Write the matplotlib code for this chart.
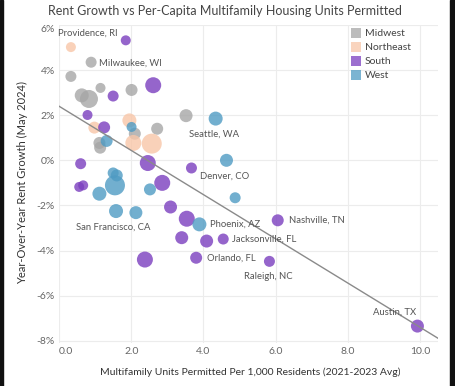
import numpy as np
import matplotlib
matplotlib.use("Agg")
import matplotlib.pyplot as plt
from matplotlib.lines import Line2D
from matplotlib.patches import Rectangle

plt.rcParams['font.family'] = ['Lato', 'DejaVu Sans']

# ---- data ----
regions = ["Midwest", "Northeast", "South", "West"]
region_colors = {"Midwest": "#a6a6a6", "Northeast": "#f8c6a8",
                 "South": "#7b3fbf", "West": "#4f9bc3"}

midwest_x = [0.89, 0.33, 0.63, 0.83, 1.15, 2.01, 2.10, 2.72, 3.52, 1.12, 1.14]
midwest_y = [4.35, 3.72, 2.88, 2.72, 3.21, 3.12, 1.18, 1.40, 1.98, 0.77, 0.56]
midwest_r = [5.5, 5.5, 7, 9, 5, 6, 6, 6, 6.5, 6, 6]

northeast_x = [0.33, 0.98, 1.95, 2.06, 2.57]
northeast_y = [5.02, 1.45, 1.77, 0.77, 0.74]
northeast_r = [5, 6, 7, 8, 10]

south_x = [1.85, 1.50, 2.61, 0.79, 1.25, 0.60, 2.46, 3.67, 0.56, 0.67, 2.86,
           3.09, 3.54, 3.40, 4.09, 4.55, 2.38, 3.80, 6.06, 5.83, 9.93]
south_y = [5.32, 2.85, 3.33, 2.01, 1.46, -0.15, -0.12, -0.34, -1.18, -1.11, -1.00,
           -2.07, -2.59, -3.43, -3.58, -3.49, -4.40, -4.32, -2.66, -4.48, -7.35]
south_r = [5, 5.5, 8, 5, 6, 5.5, 8, 5.5, 5, 5, 8,
           6.5, 8, 6.5, 6.5, 5.5, 8, 6, 6, 5.5, 6.5]

west_x = [4.34, 2.01, 1.32, 4.64, 1.50, 1.60, 1.55, 1.12, 2.52, 4.88, 1.58, 2.13, 3.89]
west_y = [1.85, 1.48, 0.86, 0.00, -0.56, -0.67, -1.11, -1.48, -1.29, -1.66, -2.25, -2.32, -2.84]
west_r = [7, 5, 6, 6.5, 5.5, 6, 10, 7, 6, 5.5, 7, 6.5, 7]

# labelled cities: (name, x, y, dx_px, dy_px, ha)
city_names = ["Providence, RI", "Milwaukee, WI", "Seattle, WA", "Denver, CO",
              "San Francisco, CA", "Phoenix, AZ", "Nashville, TN",
              "Jacksonville, FL", "Orlando, FL", "Raleigh, NC", "Austin, TX"]
city_x = [0.33, 0.89, 4.34, 4.64, 1.58, 3.89, 6.06, 4.55, 3.80, 5.83, 9.93]
city_y = [5.02, 4.35, 1.85, 0.00, -2.25, -2.84, -2.66, -3.49, -4.32, -4.48, -7.35]

trend_intercept = 2.40
trend_slope = -0.98

x_ticks = [0, 2, 4, 6, 8, 10]
x_tick_labels = ["0.0", "2.0", "4.0", "6.0", "8.0", "10.0"]
y_ticks = [-8, -6, -4, -2, 0, 2, 4, 6]
y_tick_labels = ["-8%", "-6%", "-4%", "-2%", "0%", "2%", "4%", "6%"]

# ---- layout ----
W, H = 455, 386
fig = plt.figure(figsize=(W / 100, H / 100), dpi=100)
ax = fig.add_axes([59 / W, 1 - 343 / H, (438 - 59) / W, (343 - 25) / H])
ax.set_xlim(0, 10.5)
ax.set_ylim(-8.1, 6.0)

for s in ax.spines.values():
    s.set_visible(False)
ax.set_xticks(x_ticks)
ax.set_xticklabels(x_tick_labels)
ax.set_yticks(y_ticks)
ax.set_yticklabels(y_tick_labels)
ax.tick_params(length=0, labelsize=7.5, colors="#666666", pad=3)
ax.grid(True, color="#ececec", lw=0.8)
ax.set_axisbelow(True)
ax.get_yticklabels()[-1].set_va("top")
ax.get_xticklabels()[0].set_ha("left")

def px2pt(p):
    return p * 0.72

series = [("Midwest", midwest_x, midwest_y, midwest_r),
          ("Northeast", northeast_x, northeast_y, northeast_r),
          ("South", south_x, south_y, south_r),
          ("West", west_x, west_y, west_r)]
for name, xs, ys, rs in series:
    sizes = [(2 * px2pt(r)) ** 2 for r in rs]
    ax.scatter(xs, ys, s=sizes, color=region_colors[name], alpha=0.8,
               linewidths=0, zorder=3)

xt = np.array(ax.get_xlim())
ax.plot(xt, trend_intercept + trend_slope * xt, color="#8a8a8a", lw=1.0, zorder=4)

offsets = {
    "Providence, RI": (-13, 13.5, "left"),
    "Milwaukee, WI": (8, -1, "left"),
    "Seattle, WA": (-2, -16, "center"),
    "Denver, CO": (-2, -16, "center"),
    "San Francisco, CA": (-2.5, -16, "center"),
    "Phoenix, AZ": (11, 0, "left"),
    "Nashville, TN": (11, 0, "left"),
    "Jacksonville, FL": (9, 0, "left"),
    "Orlando, FL": (11, 0, "left"),
    "Raleigh, NC": (-1, -15, "center"),
    "Austin, TX": (-1, 14, "right"),
}
for name, cx, cy in zip(city_names, city_x, city_y):
    dx, dy, ha = offsets[name]
    ax.annotate(name, (cx, cy), xytext=(px2pt(dx), px2pt(dy)),
                textcoords="offset points", ha=ha, va="center",
                fontsize=6.8, color="#555555", zorder=5)

# legend
handles = [Line2D([], [], marker="s", linestyle="none", markersize=6.5,
                  markerfacecolor=region_colors[r], markeredgewidth=0, alpha=0.75)
           for r in regions]
leg = fig.legend(handles, regions, loc="upper left",
                 bbox_to_anchor=(352 / W, 1 - 29 / H), frameon=False,
                 fontsize=7.5, handlelength=0.8, handletextpad=0.4,
                 labelspacing=0.45, borderpad=0, borderaxespad=0)
for t in leg.get_texts():
    t.set_color("#444444")

fig.text(225 / W, 1 - 11 / H,
         "Rent Growth vs Per-Capita Multifamily Housing Units Permitted",
         ha="center", va="center", fontsize=9, color="#444444")
fig.text(23 / W, 1 - 183 / H, "Year-Over-Year Rent Growth (May 2024)",
         rotation=90, ha="center", va="center", fontsize=8, color="#333333")
fig.text(250.5 / W, 1 - 372 / H,
         "Multifamily Units Permitted Per 1,000 Residents (2021-2023 Avg)",
         ha="center", va="center", fontsize=7.5, color="#333333")

# dark frame edges
fig.patches.append(Rectangle((0, 0), 3 / W, 1, transform=fig.transFigure,
                             color="#111111", zorder=10))
fig.patches.append(Rectangle((450 / W, 0), 5 / W, 1, transform=fig.transFigure,
                             color="#111111", zorder=10))

fig.savefig("out.png", dpi=100)
